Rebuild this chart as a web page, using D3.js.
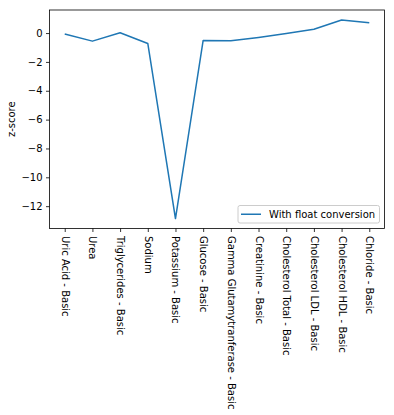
<!DOCTYPE html>
<html><head><meta charset="utf-8">
<script src="https://cdn.jsdelivr.net/npm/d3@7"></script>
<style>body{margin:0;background:#fff}svg{display:block}text{font-family:"DejaVu Sans",sans-serif}</style>
</head><body><svg id="c" width="394" height="415"></svg>
<script>
const categories = ["Uric Acid - Basic","Urea","Triglycerides - Basic","Sodium","Potassium - Basic","Glucose - Basic","Gamma Glutamytranferase - Basic","Creatinine - Basic","Cholesterol Total - Basic","Cholesterol LDL - Basic","Cholesterol HDL - Basic","Chloride - Basic"];
const zscores = [-0.07,-0.56,0.02,-0.72,-12.86,-0.51,-0.53,-0.30,-0.03,0.26,0.91,0.72];
const yTicks = [0,-2,-4,-6,-8,-10,-12];
const seriesName = "With float conversion";

const svg = d3.select("#c");
const L=49.5, T=10, R=384.5, B=228.5;
const n = categories.length;
const x = d3.scaleLinear().domain([-0.55, n-1+0.55]).range([L,R]);
const yMin = d3.min(zscores), yMax = d3.max(zscores), pad=(yMax-yMin)*0.05;
const y = d3.scaleLinear().domain([yMin-pad, yMax+pad]).range([B,T]);

const yAxis = d3.axisLeft(y).tickValues(yTicks).tickSize(3.5).tickPadding(3.5).tickFormat(d=>d<0?"\u2212"+Math.abs(d):d);
const gy = svg.append("g").attr("transform",`translate(${L},0)`).call(yAxis);
gy.select(".domain").remove();
gy.selectAll("line").attr("stroke","#000").attr("stroke-width",0.8);
gy.selectAll("text").attr("font-size",10).attr("fill","#000").attr("font-family","DejaVu Sans");

const xAxis = d3.axisBottom(x).tickValues(d3.range(n)).tickSize(3.5).tickFormat(i=>categories[i]);
const gx = svg.append("g").attr("transform",`translate(0,${B})`).call(xAxis);
gx.select(".domain").remove();
gx.selectAll("line").attr("stroke","#000").attr("stroke-width",0.8);
gx.selectAll("text").attr("font-size",10).attr("fill","#000").attr("font-family","DejaVu Sans")
  .attr("y",null).attr("dy",null).attr("text-anchor","start").attr("dominant-baseline","central")
  .attr("transform","translate(0,7.5) rotate(90)");

svg.append("path").datum(zscores)
  .attr("d", d3.line().x((d,i)=>x(i)).y(d=>y(d)))
  .attr("fill","none").attr("stroke","#1f77b4").attr("stroke-width",1.5).attr("stroke-linejoin","round");

svg.append("rect").attr("x",L).attr("y",T).attr("width",R-L).attr("height",B-T)
  .attr("fill","none").attr("stroke","#000").attr("stroke-width",0.8);

svg.append("text").attr("transform",`translate(15,${(T+B)/2}) rotate(-90)`)
  .attr("text-anchor","middle").attr("font-size",10).attr("fill","#000").text("z-score");

// legend
const lg = svg.append("g");
const lw = 141.5, lh = 17.5;
const lx = R-5-lw, ly = B-5.5-lh;
lg.append("rect").attr("x",lx).attr("y",ly).attr("width",lw).attr("height",lh).attr("rx",2)
  .attr("fill","#fff").attr("fill-opacity",0.8).attr("stroke","#cccccc").attr("stroke-width",1);
lg.append("line").attr("x1",lx+3).attr("x2",lx+23).attr("y1",ly+lh/2).attr("y2",ly+lh/2)
  .attr("stroke","#1f77b4").attr("stroke-width",1.5);
lg.append("text").attr("x",lx+31).attr("y",ly+lh/2).attr("dominant-baseline","central")
  .attr("font-size",10).attr("fill","#000").text(seriesName);
</script></body></html>
